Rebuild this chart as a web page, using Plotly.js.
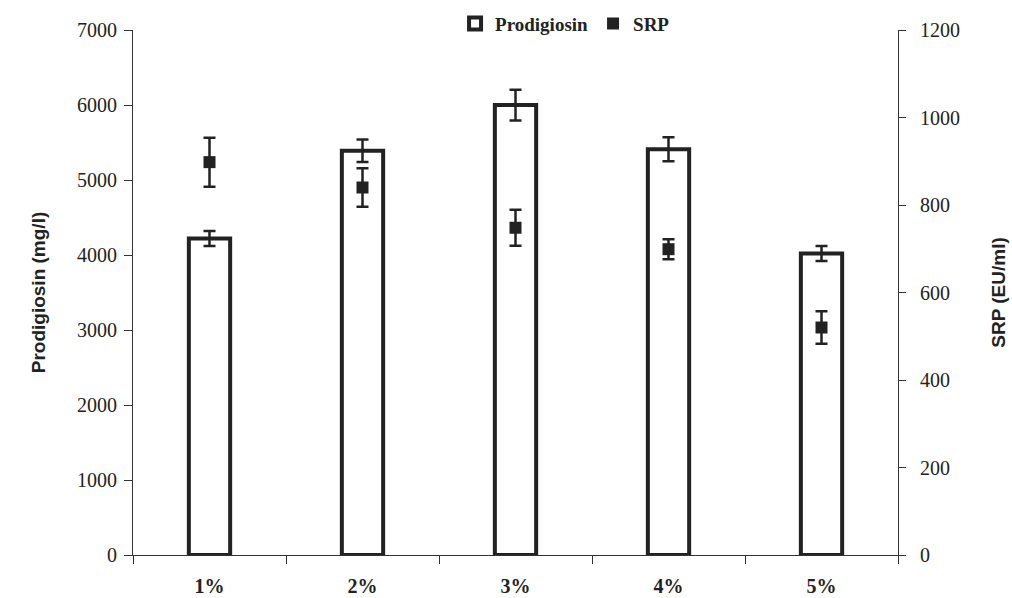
<!DOCTYPE html>
<html>
<head>
<meta charset="utf-8">
<script src="https://cdn.plot.ly/plotly-3.0.1.min.js"></script>
<style>html,body{margin:0;padding:0;background:#fff;}#chart{width:1012px;height:598px;}</style>
</head>
<body>
<div id="chart"></div>
<script>
const categories = ['1%', '2%', '3%', '4%', '5%'];
const prodigiosin = [4220, 5390, 6000, 5410, 4020];
const prodigiosinErr = [100, 150, 205, 160, 100];
const srp = [898, 840, 748, 699, 520];
const srpErr = [56, 44, 41, 23, 37];

const ink = '#222222';
const serif = 'Liberation Serif, Times New Roman, serif';
const sans = 'Liberation Sans, Arial, sans-serif';

const traces = [
  {
    type: 'bar', name: 'Prodigiosin', x: categories, y: prodigiosin,
    width: 0.27,
    marker: {color: '#ffffff', line: {color: ink, width: 4}},
    error_y: {type: 'data', array: prodigiosinErr, visible: true, color: ink, thickness: 2.5, width: 6}
  },
  {
    type: 'scatter', mode: 'markers', name: 'SRP', x: categories, y: srp, yaxis: 'y2',
    marker: {symbol: 'square', size: 12, color: ink},
    error_y: {type: 'data', array: srpErr, visible: true, color: ink, thickness: 2.5, width: 6}
  }
];

const layout = {
  width: 1012, height: 598,
  margin: {l: 133, r: 114, t: 30, b: 43, autoexpand: false},
  paper_bgcolor: '#ffffff', plot_bgcolor: '#ffffff',
  showlegend: true,
  legend: {orientation: 'h', x: 0.421, xanchor: 'left',
           y: 1.012, yanchor: 'middle',
           font: {family: serif, size: 19, color: ink, weight: 'bold'}, itemwidth: 30,
           tracegroupgap: 0, bgcolor: 'rgba(0,0,0,0)'},
  xaxis: {
    type: 'category', showgrid: false, zeroline: false,
    showline: true, linecolor: '#333', linewidth: 1,
    ticks: 'outside', ticklen: 8, tickcolor: '#333', tickson: 'boundaries',
    ticklabelstandoff: 13,
    tickfont: {family: serif, size: 20, color: ink, weight: 'bold'}
  },
  yaxis: {
    range: [0, 7000], dtick: 1000, showgrid: false, zeroline: false,
    showline: true, linecolor: '#333', linewidth: 1,
    ticks: 'outside', ticklen: 8, tickcolor: '#333',
    ticklabelstandoff: 3,
    tickfont: {family: serif, size: 20, color: ink},
    title: {text: 'Prodigiosin (mg/l)', font: {family: sans, size: 19, color: ink, weight: 'bold'}, standoff: 26}
  },
  yaxis2: {
    overlaying: 'y', side: 'right',
    range: [0, 1200], dtick: 200, showgrid: false, zeroline: false,
    showline: true, linecolor: '#333', linewidth: 1,
    ticks: 'outside', ticklen: 7, tickcolor: '#333',
    ticklabelstandoff: 10,
    tickfont: {family: serif, size: 20, color: ink},
    title: {text: 'SRP (EU/ml)', font: {family: sans, size: 19, color: ink, weight: 'bold'}, standoff: 32}
  }
};

Plotly.newPlot('chart', traces, layout, {displayModeBar: false, staticPlot: true});
</script>
</body>
</html>
